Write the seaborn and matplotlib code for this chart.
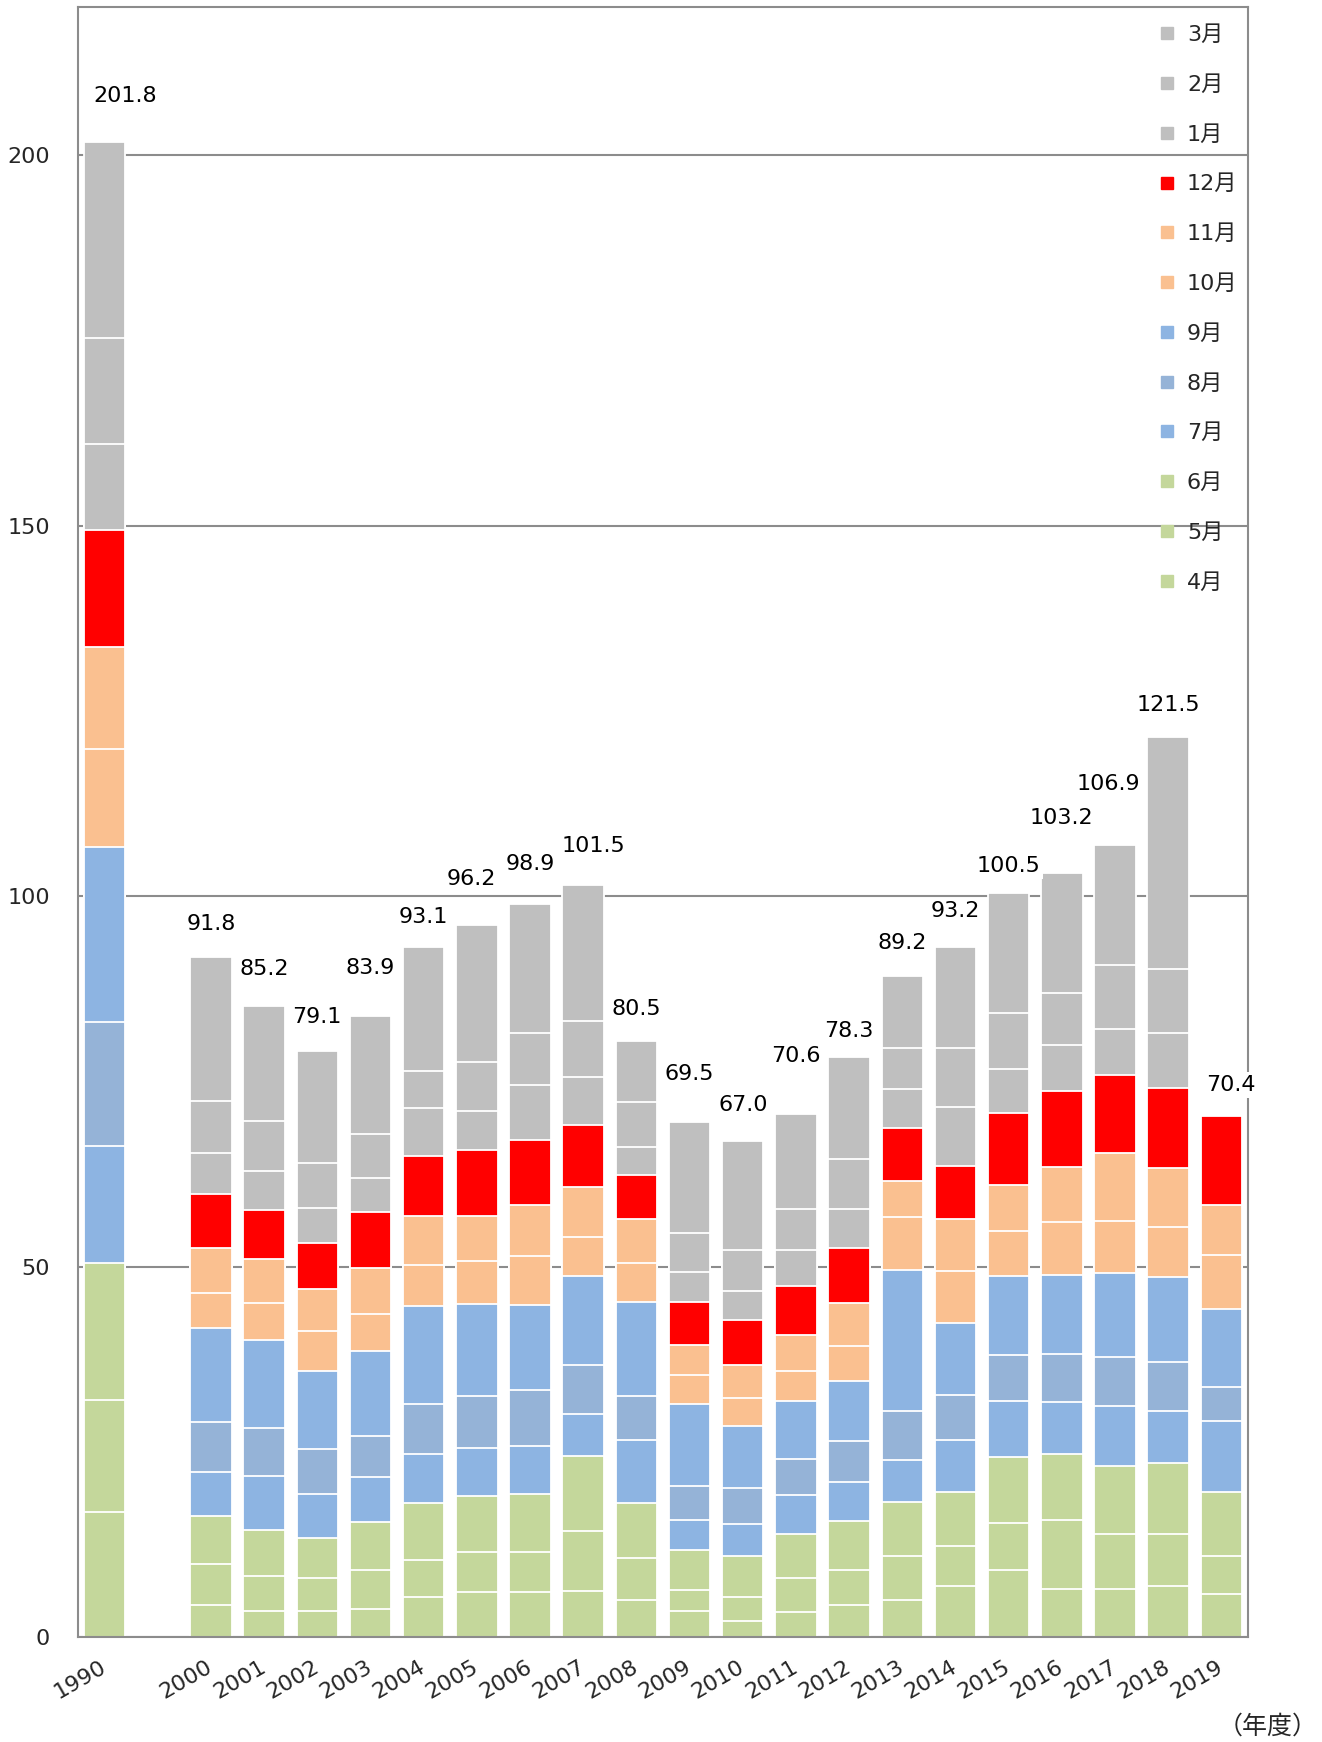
import numpy as np
import pandas as pd
import seaborn as sns
import matplotlib.pyplot as plt
from matplotlib.lines import Line2D

# 年度（1990年度、2000〜2019年度）
years = ['1990'] + [str(y) for y in range(2000, 2020)]
months = ['4月', '5月', '6月', '7月', '8月', '9月',
          '10月', '11月', '12月', '1月', '2月', '3月']

# 月別の値
apr = [16.9, 4.4, 3.6, 3.6, 3.9, 5.5, 6.1, 6.1, 6.3, 5.0, 3.6, 2.2, 3.4, 4.4, 5.0, 6.9, 9.1, 6.6, 6.6, 6.9, 5.8]
may = [15.2, 5.5, 4.7, 4.4, 5.2, 5.0, 5.4, 5.4, 8.0, 5.7, 2.8, 3.3, 4.6, 4.7, 6.0, 5.5, 6.3, 9.2, 7.3, 7.0, 5.2]
jun = [18.4, 6.5, 6.2, 5.4, 6.5, 7.7, 7.6, 7.9, 10.2, 7.5, 5.4, 5.5, 5.9, 6.6, 7.3, 7.2, 8.9, 9.0, 9.3, 9.6, 8.6]
jul = [15.8, 5.9, 7.3, 6.0, 6.0, 6.6, 6.5, 6.4, 5.6, 8.4, 4.0, 4.3, 5.3, 5.3, 5.7, 7.1, 7.6, 7.0, 8.1, 7.0, 9.6]
aug = [16.8, 6.8, 6.5, 6.0, 5.6, 6.7, 7.0, 7.6, 6.6, 6.0, 4.7, 4.9, 4.9, 5.5, 6.5, 6.0, 6.2, 6.5, 6.5, 6.7, 4.6]
sep = [23.5, 12.7, 11.9, 10.5, 11.4, 13.2, 12.4, 11.4, 12.1, 12.7, 11.0, 8.4, 7.8, 8.1, 19.1, 9.7, 10.7, 10.6, 11.4, 11.4, 10.5]
oct_ = [13.3, 4.7, 4.9, 5.4, 5.1, 5.5, 5.8, 6.7, 5.2, 5.2, 3.9, 3.7, 4.1, 4.7, 7.2, 7.1, 6.1, 7.1, 7.0, 6.8, 7.3]
nov = [13.8, 6.1, 6.0, 5.7, 6.2, 6.7, 6.1, 6.8, 6.8, 5.9, 4.0, 4.4, 4.8, 5.8, 4.8, 7.0, 6.2, 7.5, 9.2, 7.9, 6.8]
dec = [15.7, 7.3, 6.6, 6.2, 7.5, 8.1, 8.9, 8.8, 8.3, 6.0, 5.9, 6.2, 6.6, 7.5, 7.2, 7.1, 9.7, 10.2, 10.5, 10.9, 12.0]
jan = [11.7, 5.5, 5.2, 4.8, 4.6, 6.5, 5.2, 7.5, 6.5, 3.8, 4.0, 3.8, 4.9, 5.2, 5.2, 8.0, 5.9, 6.2, 6.2, 7.4, np.nan]
feb = [14.3, 7.0, 6.8, 6.0, 6.0, 4.9, 6.7, 6.9, 7.6, 6.0, 5.3, 5.6, 5.5, 6.7, 5.5, 7.9, 7.6, 7.1, 8.7, 8.6, np.nan]
mar = [26.4, 19.4, 15.5, 15.1, 15.9, 16.7, 18.5, 17.4, 18.3, 8.3, 14.9, 14.7, 12.8, 13.8, 9.7, 13.7, 16.2, 16.2, 16.1, 31.3, np.nan]

colors = {
    '4月': '#C4D79B', '5月': '#C4D79B', '6月': '#C4D79B',
    '7月': '#8DB4E2', '8月': '#95B3D7', '9月': '#8DB4E2',
    '10月': '#FAC090', '11月': '#FAC090',
    '12月': '#FF0000',
    '1月': '#BFBFBF', '2月': '#BFBFBF', '3月': '#BFBFBF',
}

# 合計ラベルの位置調整（ポイント／棒幅）
label_dy = {'1990': 33, '2000': 24, '2001': 27, '2002': 25, '2003': 34,
            '2004': 22, '2005': 33, '2006': 29, '2007': 28, '2008': 23,
            '2009': 35, '2010': 26, '2011': 42, '2012': 19, '2013': 24,
            '2014': 26, '2015': 19, '2016': 39, '2017': 44, '2018': 23,
            '2019': 22}
label_dx = {'1990': 0.38, '2005': -0.1, '2007': 0.19, '2017': -0.12, '2019': 0.17}

df = pd.DataFrame({'年度': years})
for m, vals in zip(months, [apr, may, jun, jul, aug, sep, oct_, nov, dec, jan, feb, mar]):
    df[m] = vals

# 1990 と 2000 の間に空き枠
slots = ['1990', ' '] + years[1:]

sns.set_theme(style='white')
plt.rcParams['font.family'] = ['DejaVu Sans', 'Noto Sans CJK JP']

fig = plt.figure(figsize=(13.22, 17.42), dpi=100)
ax = fig.add_axes([0.059, 0.060, 0.885, 0.936])

# 累積値を上の月から順に重ねて描く（積み上げ棒）
cum = df[months].fillna(0).cumsum(axis=1)
for m in reversed(months):
    sns.barplot(x=df['年度'], y=cum[m], order=slots, color=colors[m],
                saturation=1, width=0.78, edgecolor='white', linewidth=1.3,
                errorbar=None, ax=ax)

# 合計ラベル
totals = df[months].sum(axis=1)
for yr, tot in zip(df['年度'], totals):
    pos = slots.index(yr)
    ax.annotate(f'{tot:.1f}', (pos + label_dx.get(yr, 0), tot),
                xytext=(0, label_dy[yr]), textcoords='offset points',
                ha='center', va='center', fontsize=16, color='black',
                bbox=dict(fc='white', ec='none', pad=2))

ax.set_ylim(0, 220)
ax.set_xlim(-0.5, len(slots) - 0.5)
ax.set_yticks([0, 50, 100, 150, 200])
ax.set_xlabel('')
ax.set_ylabel('')
ax.yaxis.grid(True, color='#8C8C8C', linewidth=1.5)
ax.set_axisbelow(True)
for s in ax.spines.values():
    s.set_color('#8C8C8C')
    s.set_linewidth(1.5)

ax.tick_params(axis='y', length=0, pad=20, labelsize=16)
ax.tick_params(axis='x', length=0, pad=20, labelsize=16)
for lab in ax.get_xticklabels():
    lab.set_rotation(30)
    lab.set_ha('right')
    lab.set_va('center')
    lab.set_rotation_mode('anchor')

handles = [Line2D([], [], marker='s', linestyle='none', color=colors[m],
                  markersize=8) for m in reversed(months)]
ax.legend(handles, list(reversed(months)), loc='upper left',
          bbox_to_anchor=(1158 / 1322, 1 - 25 / 1742),
          bbox_transform=fig.transFigure, frameon=False, fontsize=16,
          labelspacing=1.34, handlelength=0.8, handletextpad=0.5,
          borderpad=0, borderaxespad=0)

fig.text(1268 / 1322, 1 - 1727 / 1742, '（年度）', ha='center', va='center', fontsize=18)

fig.savefig('out.png', dpi=100)
